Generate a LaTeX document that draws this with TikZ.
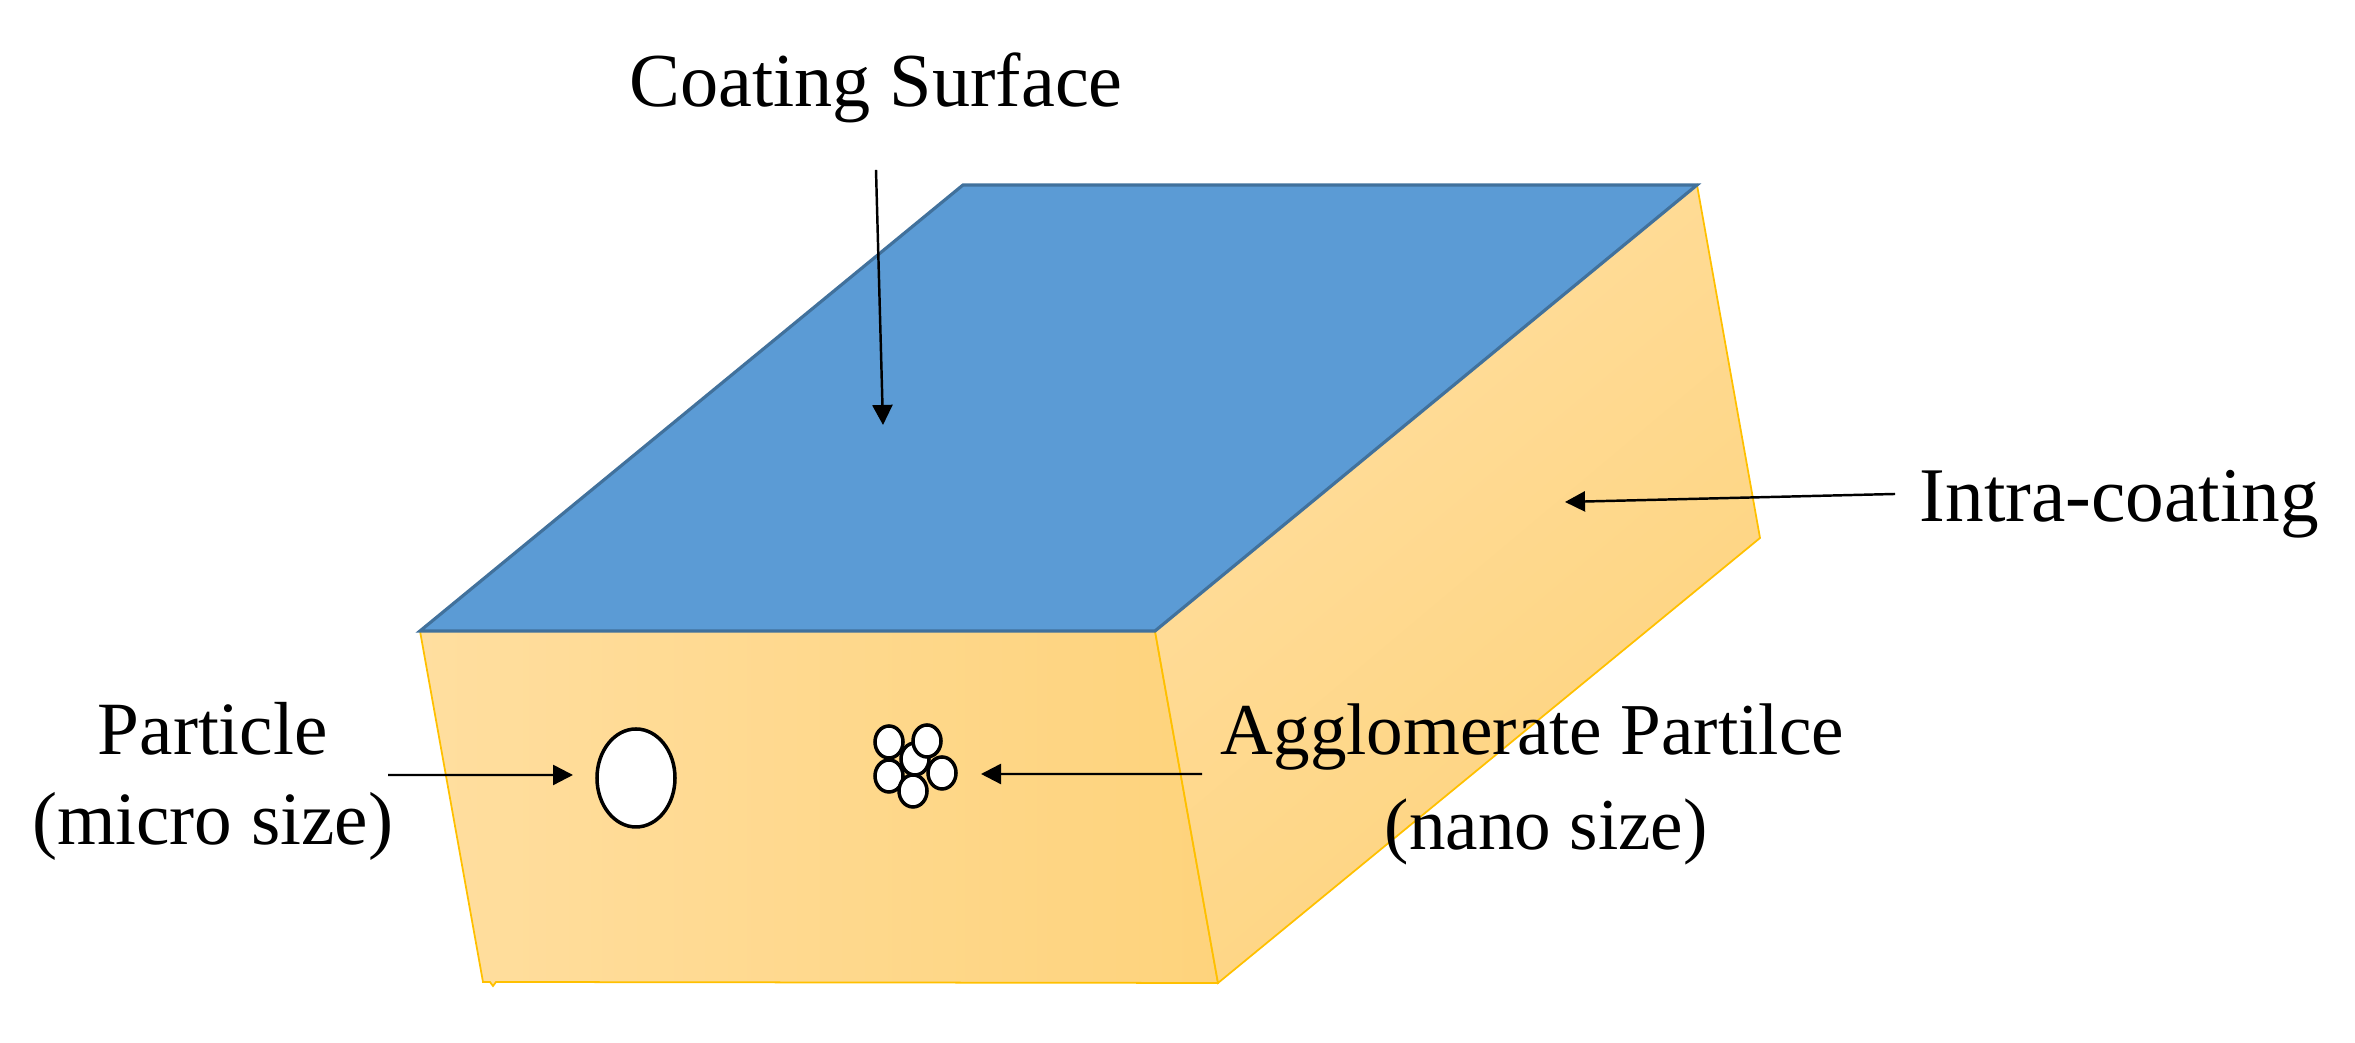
\documentclass[tikz,border=0pt]{standalone}
\usepackage{fontspec}
\setmainfont{Liberation Serif}
\usetikzlibrary{arrows.meta}
\definecolor{topblue}{HTML}{5B9BD5}
\definecolor{topedge}{HTML}{41719C}
\definecolor{sideedge}{HTML}{FFC000}
\definecolor{sidelight}{HTML}{FFDE9F}
\definecolor{sidedark}{HTML}{FED37C}
\tikzset{
	pointer/.style={line width=0.7pt, -{Triangle[length=2mm, width=2mm]}},
	labeltext/.style={font=\fontsize{21.7}{25.6}\selectfont, align=center, text=black, inner sep=0pt},
	pore/.style={draw=black, fill=white, line width=1pt}
}

\begin{document}
\begin{tikzpicture}
		\useasboundingbox (0, 0) rectangle (23.55, 10.43);
		
		%%%%% BLOCK %%%%%
		
		\path[draw=sideedge, line width=0.5pt, left color=sidelight, right color=sidedark] (4.20, 4.12) -- (11.55, 4.12) -- (12.18, 0.60) -- (4.96, 0.61) -- (4.93, 0.57) -- (4.90, 0.61) -- (4.83, 0.61) -- cycle;
		\path[draw=sideedge, line width=0.5pt, top color=sidelight, bottom color=sidedark, shading angle=40] (16.97, 8.58) -- (17.60, 5.05) -- (12.18, 0.60) -- (11.55, 4.12) -- cycle;
		\draw[fill=topblue, draw=topedge, line width=0.9pt] (9.63, 8.58) -- (16.97, 8.58) -- (11.55, 4.12) -- (4.20, 4.12) -- cycle;
		
		%%%%% PARTICLES %%%%%
		
		\draw[pore] (6.36, 2.65) ellipse (0.39 and 0.49);
		
		\draw[pore] (9.15, 2.84) ellipse (0.14 and 0.16);
		\draw[pore] (8.89, 3.01) ellipse (0.14 and 0.16);
		\draw[pore] (9.27, 3.02) ellipse (0.14 and 0.16);
		\draw[pore] (8.89, 2.67) ellipse (0.14 and 0.16);
		\draw[pore] (9.42, 2.70) ellipse (0.14 and 0.16);
		\draw[pore] (9.13, 2.52) ellipse (0.14 and 0.16);
		
		%%%%% LABELS %%%%%
		
		\node[labeltext, anchor=south, inner ysep=0.46cm] (surfacelabel) at (8.76, 8.73) {Coating Surface};
		\node[labeltext, anchor=east, font=\fontsize{21.4}{25.6}\selectfont] (particlelabel) at (3.94, 2.62) {Particle\\(micro size)};
		\node[labeltext, anchor=west, inner xsep=0.18cm, font=\fontsize{20.8}{27}\selectfont] (clusterlabel) at (12.02, 2.59) {Agglomerate Partilce\\\hspace*{0.28cm}(nano size)};
		\node[labeltext, anchor=west, inner xsep=0.24cm, font=\fontsize{22}{25.6}\selectfont] (intralabel) at (18.95, 5.39) {Intra-coating};
		
		\coordinate (surfacetip) at (8.83, 6.18);
		\coordinate (particletip) at (5.73, 2.68);
		\coordinate (clustertip) at (9.81, 2.69);
		\coordinate (intratip) at (15.65, 5.41);
		
		\draw[pointer] (surfacelabel.south) -- (surfacetip);
		\draw[pointer] ([xshift=-0.06cm, yshift=0.06cm]particlelabel.east) -- (particletip);
		\draw[pointer] ([yshift=0.10cm]clusterlabel.west) -- (clustertip);
		\draw[pointer] ([yshift=0.10cm]intralabel.west) -- (intratip);
		
		%%%%% DONE %%%%%
	\end{tikzpicture}
\end{document}
